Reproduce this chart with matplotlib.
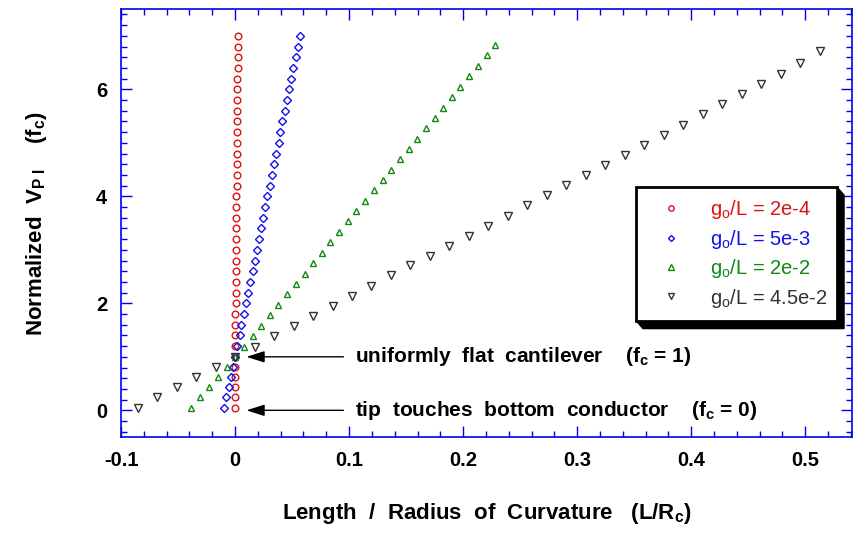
import matplotlib
matplotlib.use('Agg')
import matplotlib.pyplot as plt
import matplotlib.ticker as mticker
from matplotlib.patches import Polygon
from matplotlib.transforms import IdentityTransform

plt.rcParams['font.family'] = ['Liberation Sans', 'DejaVu Sans']
plt.rcParams['mathtext.default'] = 'regular'

# =============================================================================
# DATA
# =============================================================================
# g_o/L = 2e-4
red_x = [-0.0004, -0.0003, -0.0002, -0.0002, -0.0001, 0.0,
         0.0001, 0.0002, 0.0002, 0.0003, 0.0004, 0.0005, 0.0006, 0.0006, 0.0007, 0.0008,
         0.0009, 0.0010, 0.0010, 0.0011, 0.0012, 0.0013, 0.0014, 0.0014, 0.0015, 0.0016,
         0.0017, 0.0018, 0.0018, 0.0019, 0.0020, 0.0021, 0.0022, 0.0022, 0.0023, 0.0024]
red_y = [0.05, 0.24, 0.43, 0.62, 0.81, 1.0,
         1.2, 1.4, 1.6, 1.8, 2.0, 2.2, 2.4, 2.6, 2.8, 3.0,
         3.2, 3.4, 3.6, 3.8, 4.0, 4.2, 4.4, 4.6, 4.8, 5.0,
         5.2, 5.4, 5.6, 5.8, 6.0, 6.2, 6.4, 6.6, 6.8, 7.0]

# g_o/L = 5e-3
blue_x = [-0.0096, -0.0076, -0.0055, -0.0038, -0.0017, 0.0,
          0.0018, 0.0041, 0.0056, 0.0076, 0.0094, 0.0114, 0.0132, 0.0153, 0.0173, 0.0193,
          0.0211, 0.0229, 0.0246, 0.0264, 0.0284, 0.0305, 0.0322, 0.0340, 0.0360, 0.0381,
          0.0395, 0.0413, 0.0436, 0.0457, 0.0474, 0.0492, 0.0512, 0.0533, 0.0550, 0.0568]
blue_y = [0.05, 0.24, 0.43, 0.62, 0.81, 1.0,
          1.2, 1.4, 1.6, 1.8, 2.0, 2.2, 2.4, 2.6, 2.8, 3.0,
          3.2, 3.4, 3.6, 3.8, 4.0, 4.2, 4.4, 4.6, 4.8, 5.0,
          5.2, 5.4, 5.6, 5.8, 6.0, 6.2, 6.4, 6.6, 6.8, 7.0]

# g_o/L = 2e-2
green_x = [-0.0383, -0.0304, -0.0228, -0.0149, -0.0073, 0.0,
           0.0076, 0.0153, 0.0228, 0.0305, 0.0380, 0.0457, 0.0536, 0.0610, 0.0685, 0.0758,
           0.0834, 0.0908, 0.0990, 0.1063, 0.1139, 0.1218, 0.1294, 0.1370, 0.1446, 0.1522,
           0.1598, 0.1677, 0.1753, 0.1826, 0.1900, 0.1975, 0.2052, 0.2128, 0.2207, 0.2280]
green_y = [0.05, 0.24, 0.43, 0.62, 0.81, 1.0,
           1.19, 1.39, 1.58, 1.78, 1.97, 2.17, 2.36, 2.55, 2.75, 2.94,
           3.14, 3.33, 3.53, 3.72, 3.91, 4.11, 4.30, 4.50, 4.69, 4.89,
           5.08, 5.28, 5.47, 5.66, 5.86, 6.05, 6.25, 6.44, 6.64, 6.83]

# g_o/L = 4.5e-2
gray_x = [-0.0851, -0.0681, -0.0509, -0.0339, -0.0169, 0.0,
          0.0171, 0.0342, 0.0513, 0.0684, 0.0855, 0.1025, 0.1196, 0.1367, 0.1538, 0.1709,
          0.1880, 0.2051, 0.2222, 0.2393, 0.2564, 0.2734, 0.2905, 0.3076, 0.3247, 0.3418,
          0.3589, 0.3760, 0.3931, 0.4102, 0.4273, 0.4443, 0.4614, 0.4785, 0.4956, 0.5127]
gray_y = [0.05, 0.24, 0.43, 0.62, 0.81, 1.0,
          1.19, 1.38, 1.57, 1.76, 1.95, 2.14, 2.33, 2.52, 2.71, 2.89,
          3.08, 3.26, 3.45, 3.64, 3.83, 4.02, 4.21, 4.39, 4.58, 4.77,
          4.96, 5.15, 5.34, 5.53, 5.72, 5.91, 6.10, 6.29, 6.50, 6.72]

labels = ['g$_o$/L = 2e-4', 'g$_o$/L = 5e-3', 'g$_o$/L = 2e-2', 'g$_o$/L = 4.5e-2']
colors = ['#dd1111', '#1111ee', '#118811', '#333333']
markers = ['o', 'D', '^', 'v']
msizes = [4.8, 3.8, 5.0, 5.2]

BLUE = '#0000ee'

# =============================================================================
# PLOT
# =============================================================================
fig = plt.figure(figsize=(8.54, 5.33), dpi=100)
ax = fig.add_axes([0.1417, 0.180, 0.856, 0.803])

series = [(red_x, red_y), (blue_x, blue_y), (green_x, green_y), (gray_x, gray_y)]
for (xs, ys), lab, col, mk, ms in zip(series, labels, colors, markers, msizes):
    ax.plot(xs, ys, linestyle='none', marker=mk, markersize=ms, markerfacecolor='none',
            markeredgecolor=col, markeredgewidth=1.0, label=lab, zorder=3)

ax.set_xlim(-0.1, 0.541)
ax.set_ylim(-0.5, 7.5)
ax.xaxis.set_major_locator(mticker.FixedLocator([-0.1, 0, 0.1, 0.2, 0.3, 0.4, 0.5]))
ax.xaxis.set_minor_locator(mticker.MultipleLocator(0.02))
ax.yaxis.set_major_locator(mticker.FixedLocator([0, 2, 4, 6]))
ax.yaxis.set_minor_locator(mticker.MultipleLocator(0.2))
ax.xaxis.set_major_formatter(mticker.FuncFormatter(lambda v, p: '0' if abs(v) < 1e-9 else f'{v:g}'))
ax.yaxis.set_major_formatter(mticker.FuncFormatter(lambda v, p: f'{v:g}'))

ax.tick_params(which='both', direction='in', top=True, right=True, color=BLUE, width=1.0)
ax.tick_params(which='major', length=8, labelsize=14.5, pad=10)
ax.tick_params(which='minor', length=4)
for lbl in ax.get_xticklabels() + ax.get_yticklabels():
    lbl.set_fontweight('bold')
for sp in ax.spines.values():
    sp.set_color(BLUE)
    sp.set_linewidth(1.2)

ax.set_xlabel('Length  /  Radius  of  Curvature   (L/R$_c$)', fontsize=16, fontweight='bold', labelpad=22)
ax.set_ylabel('Normalized  V$_{P\\ I}$    (f$_c$)', fontsize=16, fontweight='bold', labelpad=34)

# annotations
for yv, txt in [(1.0, 'uniformly  flat  cantilever    (f$_c$ = 1)'),
                (0.0, 'tip  touches  bottom  conductor    (f$_c$ = 0)')]:
    ax.annotate('', xy=(0.010, yv), xytext=(0.095, yv),
                arrowprops=dict(arrowstyle='-|>,head_length=1.1,head_width=0.35',
                                color='black', lw=1.0, shrinkA=0, shrinkB=0))
    ax.text(0.105, yv, txt, fontsize=15, fontweight='bold', va='center', ha='left')

# legend with solid black drop shadow
leg = ax.legend(loc='upper left', bbox_to_anchor=(0.7045, 0.276, 0.275, 0.308), mode='expand',
                borderaxespad=0, fontsize=14.5, labelcolor=colors, frameon=True, fancybox=False,
                framealpha=1.0, handlelength=2.4, handletextpad=0.7, labelspacing=0.32,
                borderpad=0.55, markerscale=0.8)
leg.get_frame().set_edgecolor('black')
leg.get_frame().set_linewidth(2.0)
leg.set_zorder(10)

fig.canvas.draw()
bb = leg.get_window_extent()
dx, dy = 7, 8
shadow = Polygon([(bb.x1, bb.y1), (bb.x1 + dx, bb.y1 - dy), (bb.x1 + dx, bb.y0 - dy),
                  (bb.x0 + dx, bb.y0 - dy), (bb.x0, bb.y0)],
                 closed=True, transform=IdentityTransform(), facecolor='black',
                 edgecolor='black', zorder=9, clip_on=False)
ax.add_artist(shadow)

fig.savefig('out.png', dpi=100)
plt.close(fig)
